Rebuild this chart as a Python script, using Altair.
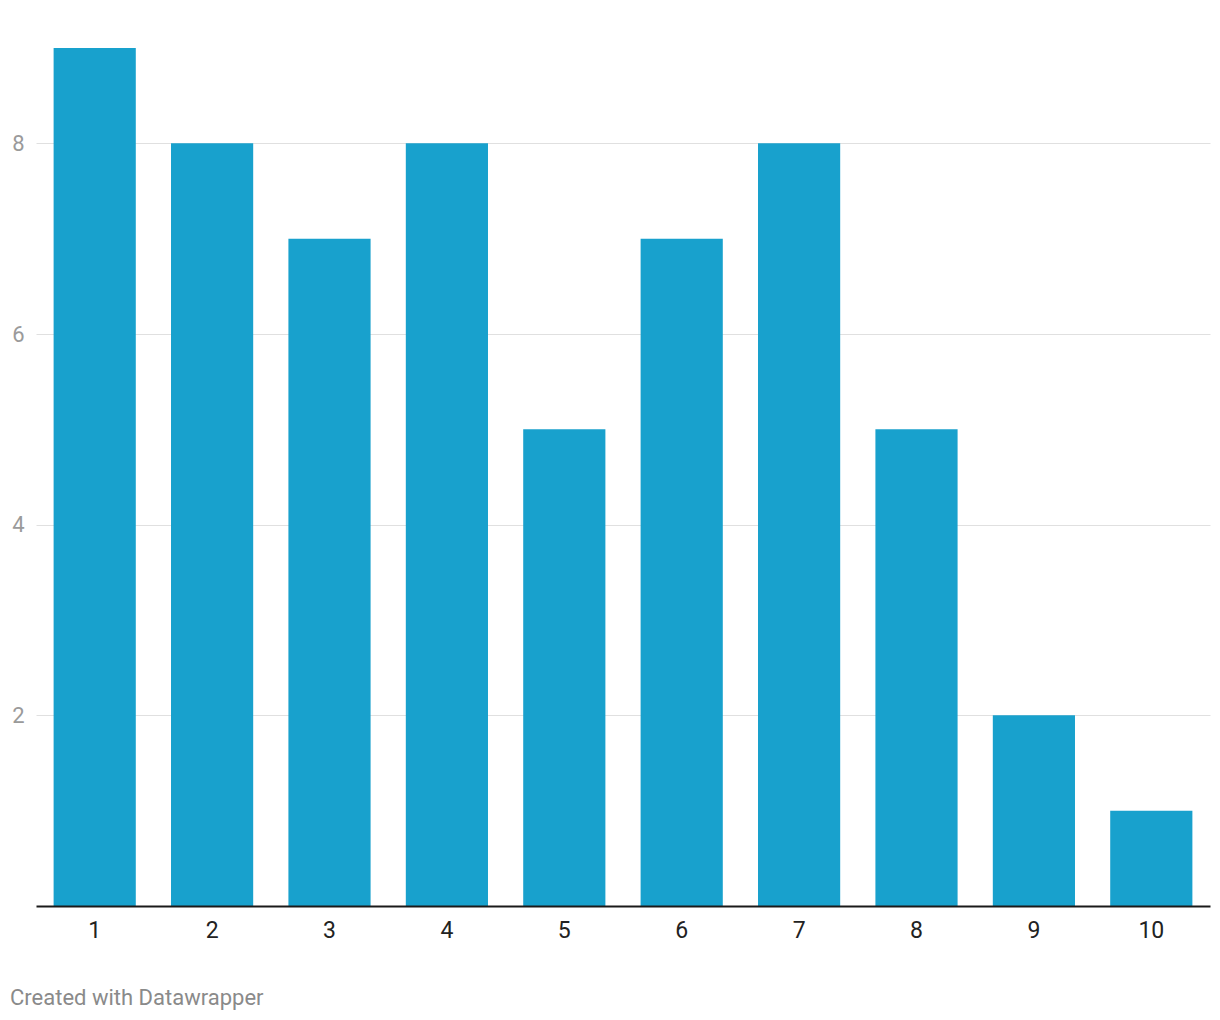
import altair as alt
import pandas as pd

categories = ["1", "2", "3", "4", "5", "6", "7", "8", "9", "10"]
values = [9, 8, 7, 8, 5, 7, 8, 5, 2, 1]
y_ticks = [2, 4, 6, 8]
footer = ["Created with Datawrapper"]

df = pd.DataFrame({"cat": categories, "val": values})

bars = alt.Chart(df).mark_bar(color="#18a1cd").encode(
    x=alt.X("cat:O", sort=categories,
            scale=alt.Scale(paddingInner=0.3, paddingOuter=0.15),
            axis=alt.Axis(title=None, labelAngle=0, ticks=False, grid=False,
                          domain=True, domainColor="#1a1a1a", domainWidth=2,
                          labelColor="#222222", labelFontSize=23, labelFont="Roboto",
                          labelBaseline="alphabetic",
                          labelPadding=31, zindex=1)),
    y=alt.Y("val:Q", scale=alt.Scale(domain=[0, 9], nice=False, zero=True),
            axis=alt.Axis(title=None, values=y_ticks, ticks=False, domain=False,
                          grid=True, gridColor="#e0e0e0", gridWidth=1,
                          labelColor="#9a9a9a", labelFontSize=22, labelFont="Roboto",
                          labelPadding=12, labelAlign="right")),
)

foot = alt.Chart(pd.DataFrame({"t": footer})).mark_text(
    align="left", baseline="alphabetic", font="Roboto", fontSize=22, color="#8a8a8a"
).encode(x=alt.value(-26), y=alt.value(957), text="t:N")

chart = alt.layer(bars, foot).properties(
    width=1174, height=858,
    autosize=alt.AutoSizeParams(type="none"),
    padding={"left": 36, "top": 48, "right": 10, "bottom": 114},
).configure_view(stroke=None)

chart.save("out.html", embed_options={"renderer": "svg", "actions": False})
